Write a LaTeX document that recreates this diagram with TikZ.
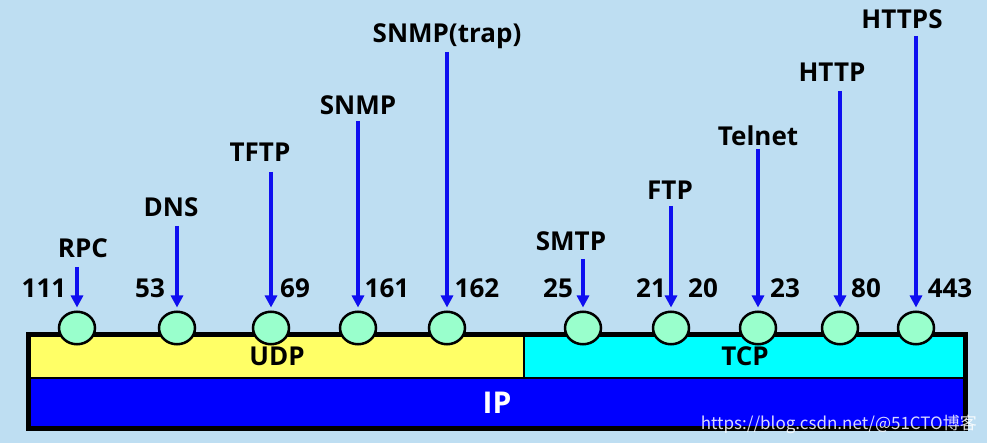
\documentclass[tikz,border=0pt]{standalone}
\usepackage{fontspec}
\setmainfont{Open Sans}
\newfontfamily\wmfont{Noto Sans CJK SC}
\usetikzlibrary{arrows.meta,shapes.geometric}
\definecolor{bgblue}{RGB}{190,222,242}
\definecolor{udpyellow}{RGB}{255,255,102}
\definecolor{tcpcyan}{RGB}{0,255,255}
\definecolor{ipblue}{RGB}{0,0,255}
\definecolor{portmint}{RGB}{153,255,204}
\definecolor{arrowblue}{RGB}{15,15,240}
\begin{document}
\begin{tikzpicture}[x=1pt,y=-1pt,
  port/.style={ellipse,draw=black,line width=2.5pt,fill=portmint,minimum width=36pt,minimum height=32.5pt,inner sep=0pt},
  lbl/.style={font=\fontsize{26}{30}\selectfont\bfseries,inner sep=0pt,anchor=base,text=black},
  arr/.style={draw=arrowblue,line width=3.8pt,-{Triangle[length=12pt,width=12pt]}}]
\useasboundingbox (0,0) rectangle (987,443);
\fill[bgblue] (0,0) rectangle (987,443);
% layers
\fill[udpyellow] (28,334) rectangle (524,378);
\fill[tcpcyan] (524,334) rectangle (965,378);
\fill[ipblue] (28,378) rectangle (965,428);
\draw[line width=2.5pt] (28,378) -- (965,378);
\draw[line width=2pt] (524,334) -- (524,378);
\draw[line width=5pt] (28,334) rectangle (965,428);
\node[lbl] (udp) at (277,365) {UDP};
\node[lbl] (tcp) at (745,365) {TCP};
\node[lbl,text=white,font=\fontsize{30}{34}\selectfont\bfseries] (ip) at (497,413) {IP};
% ports
\node[port] (c1) at (77,328) {};
\node[port] (c2) at (177,328) {};
\node[port] (c3) at (271,328) {};
\node[port] (c4) at (358,328) {};
\node[port] (c5) at (447,328) {};
\node[port] (c6) at (583,328) {};
\node[port] (c7) at (671,328) {};
\node[port] (c8) at (758,328) {};
\node[port] (c9) at (840,328) {};
\node[port] (c10) at (916,328) {};
% port numbers
\node[lbl] (n111) at (44,298) {111};
\node[lbl] (n53) at (150,298) {53};
\node[lbl] (n69) at (295,298) {69};
\node[lbl] (n161) at (387,298) {161};
\node[lbl] (n162) at (477,298) {162};
\node[lbl] (n25) at (558,298) {25};
\node[lbl] (n21) at (651,298) {21};
\node[lbl] (n20) at (703,298) {20};
\node[lbl] (n23) at (785,298) {23};
\node[lbl] (n80) at (866,298) {80};
\node[lbl] (n443) at (950,298) {443};
% protocol names
\node[lbl] (rpc) at (83,258) {RPC};
\node[lbl] (dns) at (171,217) {DNS};
\node[lbl] (tftp) at (260,162) {TFTP};
\node[lbl] (snmp) at (358,115) {SNMP};
\node[lbl] (trap) at (447,43) {SNMP(trap)};
\node[lbl] (smtp) at (571,251) {SMTP};
\node[lbl] (ftp) at (670,200) {FTP};
\node[lbl] (telnet) at (758,146) {Telnet};
\node[lbl] (http) at (832,82) {HTTP};
\node[lbl] (https) at (902,29) {HTTPS};
% arrow starts
\coordinate (s1) at (77,267);
\coordinate (s2) at (177,226);
\coordinate (s3) at (271,172);
\coordinate (s4) at (358,121);
\coordinate (s5) at (447,52);
\coordinate (s6) at (583,259);
\coordinate (s7) at (671,206);
\coordinate (s8) at (758,149);
\coordinate (s9) at (840,91);
\coordinate (s10) at (916,36);
\foreach \i in {1,...,10} {
  \draw[arr,shorten >=3pt] (s\i) -- (c\i.north);
}
% watermark
\node[font=\wmfont\fontsize{17}{20}\selectfont,text=white,opacity=0.85,anchor=base east,inner sep=0pt] (wm) at (977,429) {https://blog.csdn.net/@51CTO博客};
\end{tikzpicture}
\end{document}
